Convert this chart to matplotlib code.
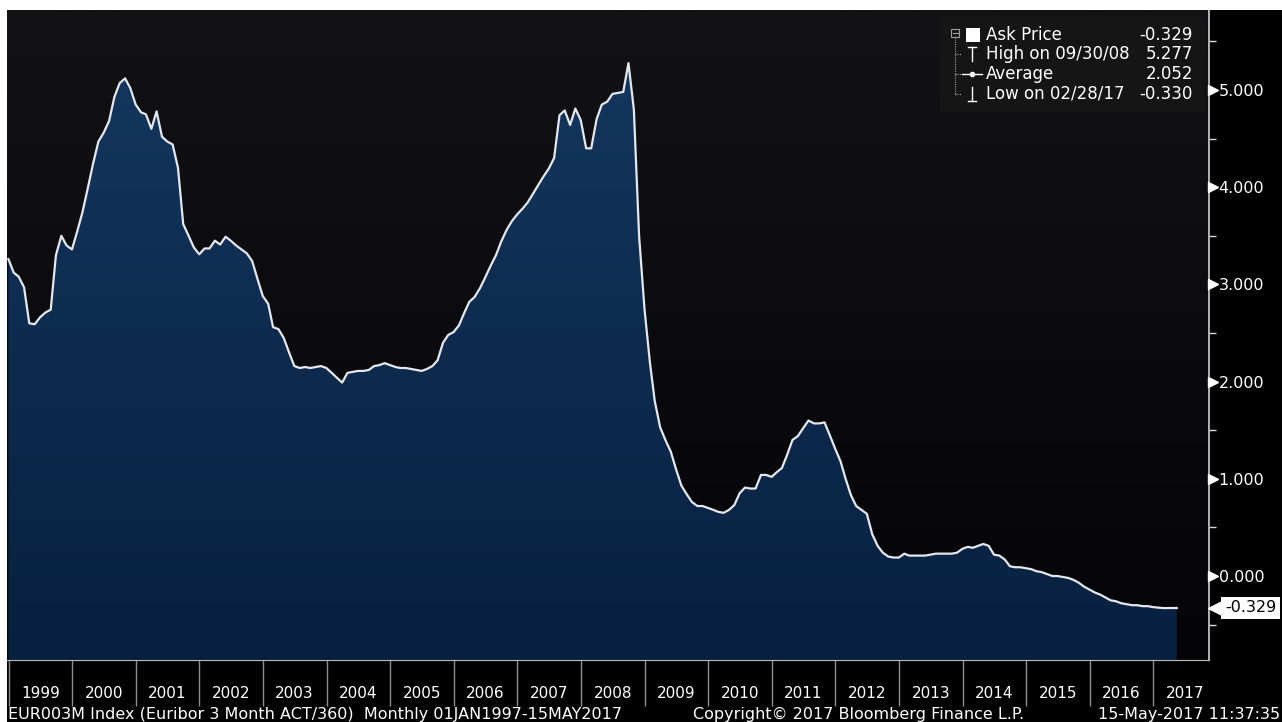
"""Euribor 3M (EUR003M Index), Bloomberg-style area chart."""

import numpy as np
import pandas as pd
import matplotlib
matplotlib.use("Agg")
import matplotlib.pyplot as plt
from matplotlib.colors import LinearSegmentedColormap
from matplotlib.lines import Line2D
from matplotlib.patches import Rectangle
from matplotlib.transforms import blended_transform_factory
import matplotlib.dates as mdates

W, H = 1282, 722

# month-end values, Dec 1998 .. Apr 2017, last point 15 May 2017
euribor_3m = [
    3.26,
    3.12, 3.08, 2.97, 2.60, 2.59, 2.66, 2.71, 2.74, 3.30, 3.50, 3.40, 3.36,          # 1999
    3.55, 3.74, 3.99, 4.24, 4.47, 4.56, 4.68, 4.93, 5.07, 5.12, 5.02, 4.85,          # 2000
    4.77, 4.75, 4.60, 4.78, 4.52, 4.47, 4.44, 4.20, 3.62, 3.50, 3.38, 3.31,          # 2001
    3.37, 3.37, 3.45, 3.41, 3.49, 3.45, 3.40, 3.36, 3.32, 3.24, 3.06, 2.88,          # 2002
    2.80, 2.56, 2.54, 2.45, 2.30, 2.16, 2.14, 2.15, 2.14, 2.15, 2.16, 2.14,          # 2003
    2.09, 2.04, 1.99, 2.09, 2.10, 2.11, 2.11, 2.12, 2.16, 2.17, 2.19, 2.17,          # 2004
    2.15, 2.14, 2.14, 2.13, 2.12, 2.11, 2.13, 2.16, 2.22, 2.40, 2.48, 2.51,          # 2005
    2.58, 2.70, 2.82, 2.87, 2.96, 3.07, 3.19, 3.30, 3.44, 3.56, 3.65, 3.72,          # 2006
    3.78, 3.84, 3.93, 4.02, 4.11, 4.19, 4.30, 4.74, 4.79, 4.64, 4.81, 4.69,          # 2007
    4.40, 4.40, 4.70, 4.85, 4.88, 4.96, 4.97, 4.98, 5.277, 4.80, 3.50, 2.75,         # 2008
    2.20, 1.80, 1.53, 1.40, 1.28, 1.10, 0.93, 0.84, 0.76, 0.72, 0.72, 0.70,          # 2009
    0.68, 0.66, 0.65, 0.68, 0.73, 0.85, 0.91, 0.90, 0.90, 1.04, 1.04, 1.02,          # 2010
    1.07, 1.11, 1.25, 1.40, 1.44, 1.52, 1.60, 1.57, 1.57, 1.58, 1.45, 1.31,          # 2011
    1.18, 1.00, 0.83, 0.72, 0.68, 0.64, 0.43, 0.31, 0.24, 0.20, 0.19, 0.19,          # 2012
    0.23, 0.21, 0.21, 0.21, 0.21, 0.22, 0.23, 0.23, 0.23, 0.23, 0.24, 0.28,          # 2013
    0.30, 0.29, 0.31, 0.33, 0.31, 0.22, 0.21, 0.17, 0.10, 0.09, 0.09, 0.08,          # 2014
    0.07, 0.05, 0.04, 0.02, 0.00, 0.00, -0.01, -0.02, -0.04, -0.07, -0.11, -0.14,    # 2015
    -0.17, -0.19, -0.22, -0.25, -0.26, -0.28, -0.29, -0.30, -0.30, -0.31, -0.31, -0.32,  # 2016
    -0.326, -0.330, -0.329, -0.329, -0.329,                                          # 2017
]
dates = list(pd.date_range("1999-01-01", periods=221, freq="MS") - pd.Timedelta(days=1))
dates.append(pd.Timestamp("2017-05-15"))

years = list(range(1999, 2018))
year_labels = [str(y) for y in years]
y_ticks = [0, 1, 2, 3, 4, 5]

legend_labels = ["Ask Price", "High on 09/30/08", "Average", "Low on 02/28/17"]
legend_values = ["-0.329", "5.277", "2.052", "-0.330"]
last_label = "-0.329"

footer_left = "EUR003M Index (Euribor 3 Month ACT/360)  Monthly 01JAN1997-15MAY2017"
footer_mid = "Copyright\u00a9 2017 Bloomberg Finance L.P."
footer_right = "15-May-2017 11:37:35"

FONT = "DejaVu Sans"


def fx(px):
    return px / W


def fy(py):
    return 1 - py / H


fig = plt.figure(figsize=(W / 100, H / 100), dpi=100, facecolor="white")
fig.add_artist(Rectangle((fx(7), 0), 1, fy(10), transform=fig.transFigure,
                         facecolor="black", edgecolor="none", zorder=-5))

ax = fig.add_axes([fx(7), fy(660), (1209 - 7) / W, (660 - 10) / H])
ax.set_facecolor("#0b0b0e")

x_lo = mdates.date2num(pd.Timestamp("1998-12-23"))
x_hi = mdates.date2num(pd.Timestamp("2017-11-16"))
y_lo, y_hi = -0.864, 5.823
ax.set_xlim(x_lo, x_hi)
ax.set_ylim(y_lo, y_hi)

# background gradient
bg_cmap = LinearSegmentedColormap.from_list("bg", ["#040406", "#131316"])
ax.imshow(np.linspace(0, 1, 256).reshape(-1, 1), cmap=bg_cmap, origin="lower",
          extent=[x_lo, x_hi, y_lo, y_hi], aspect="auto", zorder=0)

# area fill with gradient
xnum = mdates.date2num(dates)
area = ax.fill_between(xnum, euribor_3m, y_lo, facecolor="none", edgecolor="none")
fill_cmap = LinearSegmentedColormap.from_list("fill", ["#08203f", "#0e2b4e", "#14365e"])
im = ax.imshow(np.linspace(0, 1, 256).reshape(-1, 1), cmap=fill_cmap, origin="lower",
               extent=[x_lo, x_hi, y_lo, 5.4], aspect="auto", zorder=1)
im.set_clip_path(area.get_paths()[0], transform=ax.transData)

ax.plot(xnum, euribor_3m, color="#e4e7ee", lw=1.6, zorder=3, solid_joinstyle="round")

# right value axis
ax.yaxis.tick_right()
ax.set_yticks(y_ticks, labels=[f"{v:.3f}" for v in y_ticks])
ax.set_yticks(np.arange(-0.5, 6.0, 1.0), minor=True)
ax.tick_params(axis="y", which="major", length=0, pad=7, labelsize=11.5,
               labelcolor="white")
ax.tick_params(axis="y", which="minor", length=5, width=1, color="#d8d8d8",
               direction="out")
for lab in ax.get_yticklabels():
    lab.set_fontfamily(FONT)
tr = blended_transform_factory(ax.transAxes, ax.transData)
ax.plot(np.full(len(y_ticks), 1 + 4 / 1202), y_ticks, ls="none", marker=">",
        ms=6.5, color="white", transform=tr, clip_on=False, zorder=5)

# last value tag
ax.plot([1 + 9 / 1202], [euribor_3m[-1]], ls="none", marker="<", ms=15,
        color="white", transform=tr, clip_on=False, zorder=5)
ax.text(1 + 16 / 1202, euribor_3m[-1], last_label, transform=tr, ha="left",
        va="center", fontsize=11.5, color="black", family=FONT, zorder=6,
        bbox=dict(boxstyle="square,pad=0.22", facecolor="white", edgecolor="none"))

# year axis
ax.set_xticks(mdates.date2num([pd.Timestamp(f"{y}-01-01") for y in years]))
ax.set_xticks(mdates.date2num([pd.Timestamp(f"{y}-07-02") for y in years]),
              labels=year_labels, minor=True)
ax.tick_params(axis="x", which="major", length=33, width=1, color="#8e8e8e",
               labelbottom=False)
ax.tick_params(axis="x", which="minor", length=0, pad=19, labelsize=11,
               labelcolor="white")

for side in ("left", "top"):
    ax.spines[side].set_visible(False)
ax.spines["bottom"].set_color("#bcbcbc")
ax.spines["right"].set_color("#d0d0d0")
ax.spines["right"].set_linewidth(1.2)

# legend box
fig.add_artist(Rectangle((fx(940), fy(112)), (1205 - 940) / W, (112 - 17) / H,
                         transform=fig.transFigure, facecolor="#151515",
                         edgecolor="none", zorder=2))
rows_y = [35, 54, 74, 94]
for label, value, ry in zip(legend_labels, legend_values, rows_y):
    fig.text(fx(986), fy(ry), label, color="white", fontsize=12, va="center",
             family=FONT, zorder=3)
    fig.text(fx(1193), fy(ry), value, color="white", fontsize=12, va="center",
             ha="right", family=FONT, zorder=3)

grey = "#a0a0a0"


def seg(x0, y0, x1, y1, **kw):
    fig.add_artist(Line2D([fx(x0), fx(x1)], [fy(y0), fy(y1)],
                          transform=fig.transFigure, zorder=3, **kw))


# tree
fig.add_artist(Rectangle((fx(951), fy(37)), 8 / W, 8 / H, transform=fig.transFigure,
                         facecolor="none", edgecolor=grey, lw=0.8, zorder=3))
seg(952.5, 33, 957.5, 33, color=grey, lw=0.8)
seg(955, 37, 955, 95, color=grey, lw=0.8, ls=(0, (1, 1)))
for ry in rows_y[1:]:
    seg(955, ry, 961, ry, color=grey, lw=0.8, ls=(0, (1, 1)))
# ask price square
fig.add_artist(Rectangle((fx(966), fy(42)), 14 / W, 14 / H, transform=fig.transFigure,
                         facecolor="white", edgecolor="none", zorder=3))
# high / average / low icons
seg(972, 47, 972, 61, color="white", lw=1)
seg(968, 47, 976, 47, color="white", lw=1)
seg(962, 74, 982, 74, color="white", lw=1)
fig.add_artist(Line2D([fx(972)], [fy(74)], marker="o", ms=3, color="white",
                      transform=fig.transFigure, zorder=3))
seg(972, 87, 972, 101, color="white", lw=1)
seg(968, 101, 976, 101, color="white", lw=1)

# footer
fig.text(fx(8), fy(714), footer_left, color="white", fontsize=11.5, va="center",
         family=FONT)
fig.text(fx(693), fy(714), footer_mid, color="white", fontsize=11.5, va="center",
         family=FONT)
fig.text(fx(1280), fy(714), footer_right, color="white", fontsize=11.5,
         va="center", ha="right", family=FONT)

fig.savefig("out.png", dpi=100, facecolor=fig.get_facecolor())
